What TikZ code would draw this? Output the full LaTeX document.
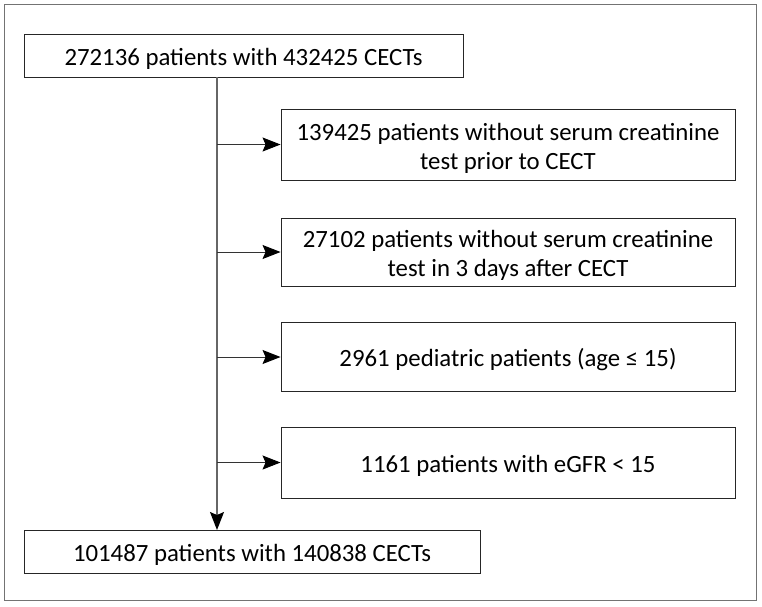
\documentclass[tikz,border=0pt]{standalone}
\usepackage{fontspec}
\setmainfont{Carlito}
\usetikzlibrary{arrows.meta}
\begin{document}
\begin{tikzpicture}[x=1pt,y=-1pt,
  box/.style={draw=black!85,line width=0.9pt,fill=white,inner sep=0pt,font=\fontsize{24.8}{29}\selectfont,align=center,text height=19.8pt,text depth=0pt},
  twoline/.style={text height=49.8pt,text depth=-6pt},
  flow/.style={draw=black!60,line width=1.4pt,-{Stealth[length=18pt,width=14pt,inset=3pt,color=black]}},
  side/.style={draw=black!80,line width=1pt,-{Stealth[length=18pt,width=14pt,inset=3pt,color=black]}}]
\useasboundingbox (0,0) rectangle (762,606);
\draw[black!55,line width=1.5pt,fill=white] (4.5,4.5) rectangle (756.5,600.5);
\node[box,minimum width=439pt,minimum height=43pt] (top) at (243.5,55.5) {272136 patients with 432425 CECTs};
\node[box,twoline,minimum width=454pt,minimum height=71pt] (b1) at (508,144.5) {139425 patients without serum creatinine\\test prior to CECT};
\node[box,twoline,minimum width=454pt,minimum height=68pt] (b2) at (508,252) {27102 patients without serum creatinine\\test in 3 days after CECT};
\node[box,minimum width=454pt,minimum height=69pt] (b3) at (508,357) {2961 pediatric patients (age ≤ 15)};
\node[box,minimum width=454pt,minimum height=71pt] (b4) at (508,462.5) {1161 patients with eGFR < 15};
\node[box,minimum width=456pt,minimum height=43pt] (bot) at (252,552) {101487 patients with 140838 CECTs};
\coordinate (v0) at (217,77);
\coordinate (v1) at (217,144.5);
\coordinate (v2) at (217,252);
\coordinate (v3) at (217,357);
\coordinate (v4) at (217,462.5);
\coordinate (v5) at (217,530);
\draw[flow] (top.south -| v0) -- (v5);
\draw[side] (v1) -- (b1.west);
\draw[side] (v2) -- (b2.west);
\draw[side] (v3) -- (b3.west);
\draw[side] (v4) -- (b4.west);
\end{tikzpicture}
\end{document}
